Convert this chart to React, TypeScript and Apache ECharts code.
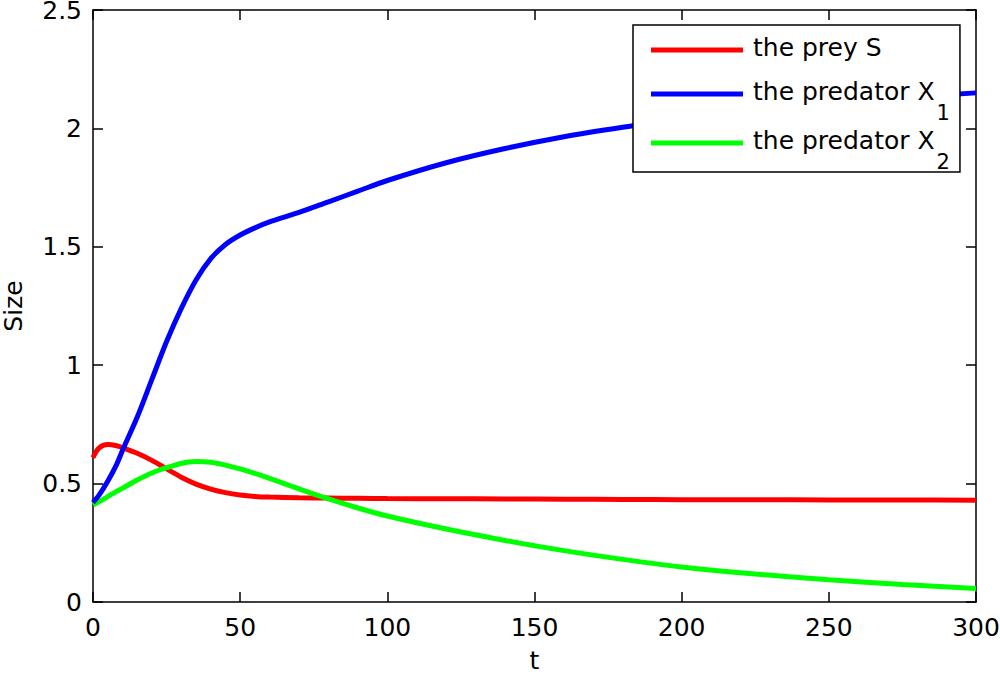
import React, { useEffect, useRef } from "react";
import * as echarts from "echarts";

const tValues = [0, 2, 5, 8, 10, 15, 20, 25, 30, 35, 40, 45, 50, 55, 60, 70, 80, 90, 100, 120, 140, 160, 180, 200, 225, 250, 275, 300];
const preyS = [0.61, 0.65, 0.665, 0.66, 0.652, 0.628, 0.598, 0.562, 0.527, 0.498, 0.477, 0.462, 0.452, 0.446, 0.443, 0.44, 0.439, 0.438, 0.437, 0.436, 0.435, 0.434, 0.433, 0.432, 0.432, 0.431, 0.431, 0.43];
const predatorX1 = [0.42, 0.45, 0.51, 0.58, 0.64, 0.78, 0.94, 1.1, 1.24, 1.36, 1.45, 1.51, 1.55, 1.58, 1.605, 1.645, 1.69, 1.735, 1.78, 1.855, 1.915, 1.965, 2.005, 2.04, 2.08, 2.11, 2.13, 2.15];
const predatorX2 = [0.41, 0.423, 0.445, 0.467, 0.48, 0.515, 0.545, 0.567, 0.585, 0.593, 0.59, 0.578, 0.562, 0.543, 0.522, 0.478, 0.435, 0.397, 0.363, 0.308, 0.26, 0.217, 0.18, 0.148, 0.118, 0.094, 0.074, 0.057];

const seriesNames = ["the prey S", "the predator X1", "the predator X2"];
const seriesColors = ["#ff0000", "#0000ff", "#00ff00"];

const FONT = "DejaVu Sans, Liberation Sans, Arial, sans-serif";

export default function App() {
  const ref = useRef<HTMLDivElement>(null);
  useEffect(() => {
    if (!ref.current) return;
    const chart = echarts.init(ref.current, null, { renderer: "svg" });
    const values = [preyS, predatorX1, predatorX2];
    const axisCommon = {
      axisLine: { show: true, onZero: false, lineStyle: { color: "#000", width: 1.5 } },
      axisTick: { show: true, inside: true, length: 10, lineStyle: { color: "#000", width: 1.5 } },
      splitLine: { show: false },
    };
    chart.setOption({
      animation: false,
      backgroundColor: "#fff",
      grid: { left: 93, right: 24, top: 10, bottom: 73, containLabel: false, outerBoundsMode: "none" },
      xAxis: [
        {
          type: "value",
          min: 0,
          max: 300,
          interval: 50,
          position: "bottom",
          name: "t",
          nameLocation: "middle",
          nameGap: 46,
          nameTextStyle: { fontSize: 25, color: "#000", fontFamily: FONT },
          axisLabel: { fontSize: 25, color: "#000", fontFamily: FONT, margin: 14, lineHeight: 22 },
          ...axisCommon,
        },
        {
          type: "value",
          min: 0,
          max: 300,
          interval: 50,
          position: "top",
          axisLabel: { show: false },
          ...axisCommon,
        },
      ],
      yAxis: [
        {
          type: "value",
          min: 0,
          max: 2.5,
          interval: 0.5,
          position: "left",
          name: "Size",
          nameLocation: "middle",
          nameGap: 68,
          nameTextStyle: { fontSize: 25, color: "#000", fontFamily: FONT, lineHeight: 24 },
          axisLabel: { fontSize: 25, color: "#000", fontFamily: FONT, margin: 11, lineHeight: 16 },
          ...axisCommon,
        },
        {
          type: "value",
          min: 0,
          max: 2.5,
          interval: 0.5,
          position: "right",
          axisLabel: { show: false },
          ...axisCommon,
        },
      ],
      legend: {
        show: true,
        orient: "vertical",
        left: 633,
        top: 25,
        backgroundColor: "#fff",
        borderColor: "#000",
        borderWidth: 1.5,
        borderRadius: 0,
        padding: [10, 10, 0, 18],
        itemGap: 5,
        itemWidth: 92,
        itemHeight: 5,
        icon: "rect",
        data: seriesNames,
        formatter: (name: string) => {
          if (name.endsWith("X1")) return "{m|" + name.slice(0, -1) + "}{sub|1}";
          if (name.endsWith("X2")) return "{m|" + name.slice(0, -1) + "}{sub|2}";
          return "{m1|" + name + "}";
        },
        textStyle: {
          fontSize: 25,
          color: "#000",
          fontFamily: FONT,
          padding: [0, 0, 0, 5],
          rich: {
            m1: {
              fontSize: 25,
              lineHeight: 30,
              color: "#000",
              fontFamily: FONT,
              padding: [0, 0, 14, 0],
              verticalAlign: "top",
            },
            m: {
              fontSize: 25,
              lineHeight: 30,
              color: "#000",
              fontFamily: FONT,
              verticalAlign: "top",
            },
            sub: {
              fontSize: 21,
              lineHeight: 24,
              color: "#000",
              fontFamily: FONT,
              padding: [23, 0, 0, 2],
              verticalAlign: "top",
            },
          },
        },
      },
      series: values.map((vals, i) => ({
        type: "line",
        name: seriesNames[i],
        xAxisIndex: 0,
        yAxisIndex: 0,
        data: tValues.map((t, j) => [t, vals[j]]),
        showSymbol: false,
        symbol: "none",
        smooth: 0.3,
        lineStyle: { color: seriesColors[i], width: 5 },
        itemStyle: { color: seriesColors[i] },
        z: i === 1 ? 3 : 2,
      })),
    });
    return () => chart.dispose();
  }, []);
  return (
    <div
      ref={ref}
      style={{ position: "fixed", left: 0, top: 0, width: 1000, height: 675 }}
    />
  );
}
